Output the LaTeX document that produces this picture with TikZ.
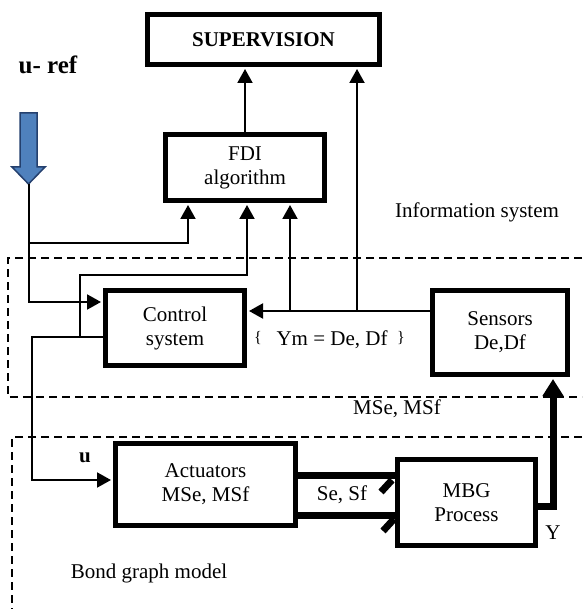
\documentclass[tikz,border=0pt]{standalone}
\usepackage{fontspec}
\setmainfont{Liberation Serif}
\usetikzlibrary{arrows.meta,calc}
\definecolor{urefcol}{HTML}{4F81BD}
\definecolor{urefdraw}{HTML}{24406E}
\begin{document}
\begin{tikzpicture}[x=1pt,y=-1pt,
  blk/.style={draw, line width=5pt, inner sep=0pt, align=center, font=\fontsize{21}{24}\selectfont},
  conn/.style={line width=2pt},
  arr/.style={conn, -{Triangle[length=14pt,width=15pt]}, shorten >=2pt},
  bond/.style={line width=7pt},
  bigarr/.style={line width=7pt, -{Triangle[length=17pt,width=20pt]}, shorten >=2pt},
  zone/.style={line width=1.8pt, dash pattern=on 8pt off 5pt},
  lbl/.style={font=\fontsize{21}{24}\selectfont, inner sep=0pt}]
\useasboundingbox (0,0) rectangle (582,609);

% zones
\draw[zone] (582,258) -- (8,258) -- (8,397) -- (582,397);
\draw[zone] (582,437) -- (12,437) -- (12,609);

% blocks
\node[blk, minimum width=232pt, minimum height=50pt, font=\bfseries\fontsize{21}{24}\selectfont] (sup) at (263.5,39.5) {SUPERVISION};
\node[blk, minimum width=159pt, minimum height=66pt] (fdi) at (245,167.5) {FDI\\algorithm};
\node[blk, minimum width=139pt, minimum height=75pt] (ctrl) at (175,328) {Control\\system};
\node[blk, minimum width=135pt, minimum height=84pt] (sens) at (500,332.5) {Sensors\\De,Df};
\node[blk, minimum width=180pt, minimum height=82pt] (act) at (205.5,484.5) {Actuators\\MSe, MSf};
\node[blk, minimum width=138pt, minimum height=86pt] (mbg) at (466.5,502.5) {MBG\\Process};

% u-ref block arrow
\draw[fill=urefcol, draw=urefdraw, line width=1.5pt] (20,113) -- (37,113) -- (37,167) -- (45,167) -- (28.5,184) -- (12,167) -- (20,167) -- cycle;
\coordinate (tip) at (28.5,184);

% helper coordinates
\coordinate (j1) at (28.5,243);
\coordinate (f1) at (188,243);
\coordinate (j2) at (0,302);
\coordinate (ym) at (0,311);
\coordinate (k1) at (290,311);
\coordinate (k2) at (357,311);
\coordinate (ua) at (32,337);
\coordinate (ub) at (32,480);
\coordinate (b1) at (80,337);
\coordinate (b2) at (80,275);
\coordinate (b3) at (247,275);
\coordinate (bu) at (0,475);
\coordinate (bl) at (0,515);
\coordinate (yc) at (553,506);

% connectors
\draw[arr] (fdi.north) -- (fdi.north |- sup.south);
\draw[arr] (k2) -- (k2 |- sup.south);
\draw[arr] (k1) -- (k1 |- fdi.south);
\draw[arr] (sens.west |- ym) -- (ctrl.east |- ym);
\draw[arr] (tip) |- (ctrl.west |- j2);
\draw[arr] (j1) -- (f1) -- (f1 |- fdi.south);
\draw[arr] (ctrl.west |- ua) -- (ua) -- (ub) -- (act.west |- ub);
\draw[arr] (b1) -- (b2) -- (b3) -- (b3 |- fdi.south);

% bonds
\draw[bond] (act.east |- bu) -- (mbg.west |- bu);
\draw[bond] (act.east |- bl) -- (mbg.west |- bl);
\draw[bond] ($(mbg.west |- bu)+(-3,5)$) -- ++(-11,12);
\draw[bond] ($(mbg.west |- bl)+(-1,4)$) -- ++(-11,12);
\draw[bigarr] (mbg.east |- yc) -- (yc) -- (yc |- sens.south);

% labels
\node[lbl, font=\bfseries\fontsize{25}{28}\selectfont] (uref) at (48,65) {u- ref};
\node[lbl] (info) at (477,212) {Information system};
\node[lbl] (ymt) at (332,340) {Ym = De, Df};
\node[lbl, font=\fontsize{16}{18}\selectfont] (lb) at (258,338) {\{};
\node[lbl, font=\fontsize{16}{18}\selectfont] (rb) at (401,338) {\}};
\node[lbl] (msl) at (397,409) {MSe, MSf};
\node[lbl] (sesf) at (342,495) {Se, Sf};
\node[lbl, font=\bfseries\fontsize{21}{24}\selectfont] (ul) at (85,458) {u};
\node[lbl] (yl) at (553,533) {Y};
\node[lbl] (bgm) at (149,573) {Bond graph model};
\end{tikzpicture}
\end{document}
